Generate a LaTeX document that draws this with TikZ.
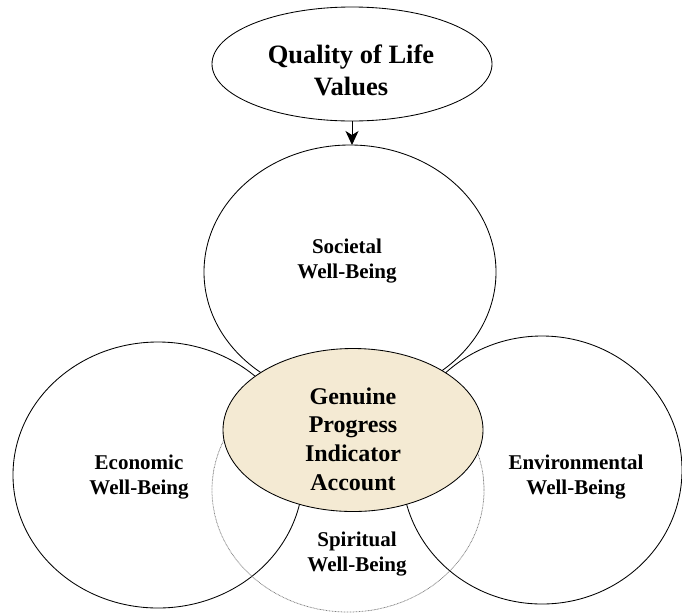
\documentclass[tikz,border=0pt]{standalone}
\usepackage{fontspec}
\setmainfont{Liberation Serif}
\usetikzlibrary{shapes.geometric,arrows.meta}
\definecolor{parchment}{RGB}{244,234,211}
\definecolor{dotgray}{RGB}{125,125,125}
\begin{document}
\begin{tikzpicture}[x=1pt,y=-1pt,
  ring/.style={ellipse,draw=black,line width=0.85pt,inner sep=0pt,outer sep=0pt},
  lbl/.style={align=center,inner sep=0pt,font=\fontsize{21}{25}\selectfont\bfseries},
  biglbl/.style={lbl,font=\fontsize{26.5}{32}\selectfont\bfseries},
  corelbl/.style={lbl,font=\fontsize{24}{28.7}\selectfont\bfseries},
  flow/.style={-{Stealth[length=14pt,width=13pt,inset=4pt]},line width=1pt}]
\useasboundingbox (0,0) rectangle (682,614);

% outline circles of the four dimensions
\node[ring,minimum width=292pt,minimum height=254pt] (soc) at (350,272) {};
\node[ring,minimum width=290pt,minimum height=266pt] (eco) at (158,475) {};
\node[ring,minimum width=280pt,minimum height=268pt] (env) at (542,470) {};
\node[ring,draw=dotgray,line width=0.75pt,dash pattern=on 0.8pt off 0.7pt,
      minimum width=272pt,minimum height=244pt] (spi) at (348,490) {};

% central account
\node[ring,fill=parchment,minimum width=260pt,minimum height=163pt] (gpi) at (353,430) {};

% values on top
\node[ring,minimum width=280pt,minimum height=114pt] (qol) at (352,64) {};
\draw[flow] (qol.south) -- (qol.south |- soc.north);

% labels
\node[biglbl] (qoltext) at (351,70) {Quality of Life\\Values};
\node[lbl] (soctext) at (347,261) {Societal\\Well-Being};
\node[lbl] (ecotext) at (139,477) {Economic\\Well-Being};
\node[lbl] (envtext) at (576,477) {Environmental\\Well-Being};
\node[lbl] (spitext) at (357,554) {Spiritual\\Well-Being};
\node[corelbl] (gpitext) at (353,439) {Genuine\\Progress\\Indicator\\Account};
\end{tikzpicture}
\end{document}
